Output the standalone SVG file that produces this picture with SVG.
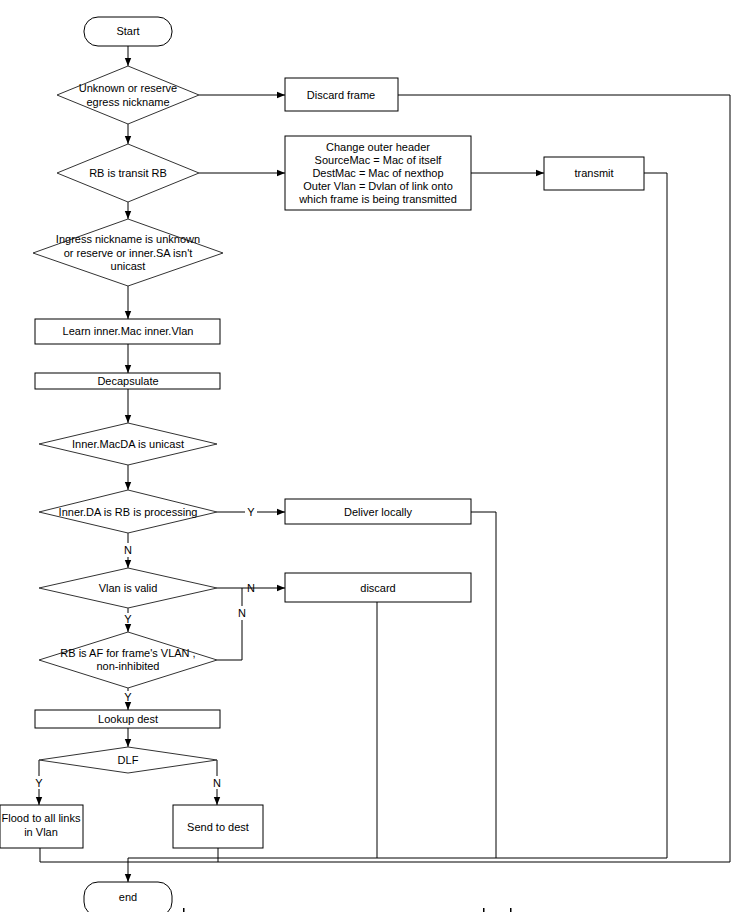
<svg xmlns="http://www.w3.org/2000/svg" width="755" height="912" viewBox="0 0 755 912">
<defs>
<style>
.shape{fill:#fff;stroke:#000;stroke-width:1}
.dia{fill:#fff;stroke:#333;stroke-width:1}
.t{font-family:"Liberation Sans",Arial,sans-serif;font-size:11px;fill:#000;text-anchor:middle}
.c{fill:none;stroke:#000;stroke-width:1}
.lbl{font-family:"Liberation Sans",Arial,sans-serif;font-size:11px;fill:#000;text-anchor:middle}
</style>
<marker id="ah" markerUnits="userSpaceOnUse" markerWidth="8" markerHeight="8" viewBox="0 0 8 8" refX="8" refY="4" orient="auto">
<path d="M0,0.8 L8,4 L0,7.2 Z" fill="#000"/>
</marker>
</defs>
<rect width="755" height="912" fill="#fff"/>

<g id="connectors">
<path class="c" d="M128,46 V66" marker-end="url(#ah)"/>
<path class="c" d="M199,95 H285" marker-end="url(#ah)"/>
<path class="c" d="M398,95 H730 V862 H40 V848"/>
<path class="c" d="M128,124 V144" marker-end="url(#ah)"/>
<path class="c" d="M199,173 H285" marker-end="url(#ah)"/>
<path class="c" d="M471,173 H544" marker-end="url(#ah)"/>
<path class="c" d="M644,173 H667 V858 H128"/>
<path class="c" d="M128,858 V882" marker-end="url(#ah)"/>
<path class="c" d="M128,202 V219" marker-end="url(#ah)"/>
<path class="c" d="M128,286 V319" marker-end="url(#ah)"/>
<path class="c" d="M128,344 V373" marker-end="url(#ah)"/>
<path class="c" d="M128,389 V423" marker-end="url(#ah)"/>
<path class="c" d="M128,465 V490" marker-end="url(#ah)"/>
<path class="c" d="M217,512 H245 M257,512 H285" marker-end="url(#ah)"/>
<path class="c" d="M471,512 H496 V858"/>
<path class="c" d="M128,533 V543 M128,557 V568" marker-end="url(#ah)"/>
<path class="c" d="M217,588 H285" marker-end="url(#ah)"/>
<path class="c" d="M377,602 V858"/>
<path class="c" d="M242,588 V606 M242,620 V660 H217"/>
<path class="c" d="M128,608 V613 M128,626 V632" marker-end="url(#ah)"/>
<path class="c" d="M128,688 V691 M128,704 V710" marker-end="url(#ah)"/>
<path class="c" d="M128,728 V747" marker-end="url(#ah)"/>
<path class="c" d="M39,760 V776 M39,789 V805" marker-end="url(#ah)"/>
<path class="c" d="M217,760 V776 M217,789 V805" marker-end="url(#ah)"/>
<path class="c" d="M218,848 V862"/>
<text class="lbl" x="251" y="516">Y</text>
<text class="lbl" x="128" y="554">N</text>
<text class="lbl" x="251" y="592">N</text>
<text class="lbl" x="242" y="617">N</text>
<text class="lbl" x="128" y="623">Y</text>
<text class="lbl" x="128" y="701">Y</text>
<text class="lbl" x="39" y="787">Y</text>
<text class="lbl" x="217" y="787">N</text>
</g>

<g id="start">
<rect class="shape" x="84" y="17" width="88" height="29" rx="14" ry="14"/>
<text class="t" x="128" y="35">Start</text>
</g>
<g id="d-unknown">
<polygon class="dia" points="57,95 128,66 199,95 128,124"/>
<text class="t" x="128" y="92">Unknown or reserve</text>
<text class="t" x="128" y="106">egress nickname</text>
</g>
<g id="discard-frame">
<rect class="shape" x="285" y="78" width="113" height="33"/>
<text class="t" x="341" y="99">Discard frame</text>
</g>
<g id="d-transit">
<polygon class="dia" points="57,173 128,144 199,173 128,202"/>
<text class="t" x="128" y="177">RB is transit RB</text>
</g>
<g id="change-header">
<rect class="shape" x="285" y="136" width="186" height="74"/>
<text class="t" x="378" y="151">Change outer header</text>
<text class="t" x="378" y="164">SourceMac = Mac of itself</text>
<text class="t" x="378" y="177">DestMac = Mac of nexthop</text>
<text class="t" x="378" y="190">Outer Vlan = Dvlan of link onto</text>
<text class="t" x="378" y="203">which frame is being transmitted</text>
</g>
<g id="transmit">
<rect class="shape" x="544" y="157" width="100" height="33"/>
<text class="t" x="594" y="177">transmit</text>
</g>
<g id="d-ingress">
<polygon class="dia" points="33,253 128,219 223,253 128,286"/>
<text class="t" x="128" y="243">Ingress nickname is unknown</text>
<text class="t" x="128" y="257">or reserve or inner.SA isn't</text>
<text class="t" x="128" y="270">unicast</text>
</g>
<g id="learn">
<rect class="shape" x="35" y="319" width="185" height="25"/>
<text class="t" x="128" y="335">Learn inner.Mac inner.Vlan</text>
</g>
<g id="decap">
<rect class="shape" x="35" y="373" width="185" height="16"/>
<text class="t" x="128" y="385">Decapsulate</text>
</g>
<g id="d-macda">
<polygon class="dia" points="39,444 128,423 217,444 128,465"/>
<text class="t" x="128" y="448">Inner.MacDA is unicast</text>
</g>
<g id="d-innerda">
<polygon class="dia" points="39,512 128,490 217,512 128,533"/>
<text class="t" x="128" y="516">Inner.DA is RB is processing</text>
</g>
<g id="deliver">
<rect class="shape" x="285" y="499" width="186" height="25"/>
<text class="t" x="378" y="516">Deliver locally</text>
</g>
<g id="d-vlan">
<polygon class="dia" points="39,588 128,568 217,588 128,608"/>
<text class="t" x="128" y="592">Vlan is valid</text>
</g>
<g id="discard">
<rect class="shape" x="285" y="573" width="186" height="29"/>
<text class="t" x="378" y="592">discard</text>
</g>
<g id="d-af">
<polygon class="dia" points="39,660 128,632 217,660 128,688"/>
<text class="t" x="128" y="657">RB is AF for frame's VLAN ,</text>
<text class="t" x="128" y="670">non-inhibited</text>
</g>
<g id="lookup">
<rect class="shape" x="35" y="710" width="185" height="18"/>
<text class="t" x="128" y="723">Lookup dest</text>
</g>
<g id="d-dlf">
<polygon class="dia" points="39,760 128,747 217,760 128,773"/>
<text class="t" x="128" y="764">DLF</text>
</g>
<g id="flood">
<rect class="shape" x="0" y="805" width="83" height="43"/>
<text class="t" x="41" y="822">Flood to all links</text>
<text class="t" x="41" y="836">in Vlan</text>
</g>
<g id="send">
<rect class="shape" x="173" y="805" width="90" height="43"/>
<text class="t" x="218" y="831">Send to dest</text>
</g>
<g id="end">
<rect class="shape" x="84" y="882" width="88" height="34" rx="14" ry="14"/>
<text class="t" x="128" y="901">end</text>
</g>
<g id="marks">
<rect x="183" y="908" width="1.5" height="4" fill="#000"/>
<rect x="483" y="908" width="1.5" height="4" fill="#000"/>
<rect x="510" y="908" width="1.5" height="4" fill="#000"/>
</g>
</svg>
